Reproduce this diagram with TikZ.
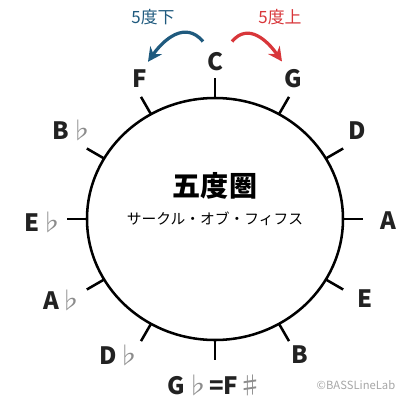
\documentclass[tikz,border=0pt]{standalone}
\usepackage{fontspec}
\setmainfont{Noto Sans CJK JP}
\usetikzlibrary{calc,arrows.meta}

\definecolor{fifthblue}{HTML}{1F5A7E}
\definecolor{fifthred}{HTML}{D8363A}
\definecolor{notegray}{HTML}{222222}

\tikzset{
  ring/.style={line width=1.8pt, black},
  tickmark/.style={line width=1.8pt, black},
  note/.style={inner sep=0pt, text=notegray, font=\fontsize{17}{17}\selectfont\bfseries},
  fifth/.style={line width=2.3pt, -{Stealth[length=10pt, width=10pt]}},
  fifthlabel/.style={inner sep=0pt, font=\fontsize{12}{12}\selectfont}
}
\newcommand{\fl}{\textcolor{black!45}{\mdseries ♭}}
\newcommand{\shp}{\textcolor{black!45}{\mdseries ♯}}

\begin{document}
\begin{tikzpicture}[x=0.025cm, y=0.025cm]
\useasboundingbox (-215,-184) rectangle (200,219);

% circle of fifths
\draw[ring] (0,0) ellipse [x radius=128, y radius=121];
\foreach \a in {0,30,...,330}
  \draw[tickmark] (\a:128 and 121) -- ++(\a:20);

% keys
\node[note] (C)  at (0,157)     {C};
\node[note] (G)  at (78,140)    {G};
\node[note] (D)  at (142,88)    {D};
\node[note] (A)  at (173,-2)    {A};
\node[note] (E)  at (150,-80)   {E};
\node[note] (B)  at (85,-136)   {B};
\node[note] (Gb) at (0,-166)    {G\fl=F\shp};
\node[note] (Db) at (-95,-136)  {D\fl};
\node[note] (Ab) at (-152,-81)  {A\fl};
\node[note] (Eb) at (-171,-3)   {E\fl};
\node[note] (Bb) at (-142,89)   {B\fl};
\node[note] (F)  at (-75,140)   {F};

% title
\node[inner sep=0pt, font=\fontsize{20}{20}\selectfont\bfseries] (title) at (0,33) {五度圏};
\node[inner sep=0pt, font=\fontsize{10.5}{10.5}\selectfont] (sub) at (0,0) {サークル・オブ・フィフス};

% fifth up / down
\draw[fifth, fifthblue] ($(C.north)+(-12,11)$) to[out=130, in=55, looseness=1.2] ($(F.north)+(8,8)$);
\draw[fifth, fifthred]  ($(C.north)+(17,11)$)  to[out=50, in=125, looseness=1.2] ($(G.north)+(-11,8)$);
\node[fifthlabel, text=fifthblue] (down) at (-62,202) {5度下};
\node[fifthlabel, text=fifthred]  (up)   at (65,202)  {5度上};

\node[inner sep=0pt, text=black!35, font=\fontsize{8}{8}\selectfont] (credit) at (141,-166) {©BASSLineLab};
\end{tikzpicture}
\end{document}
